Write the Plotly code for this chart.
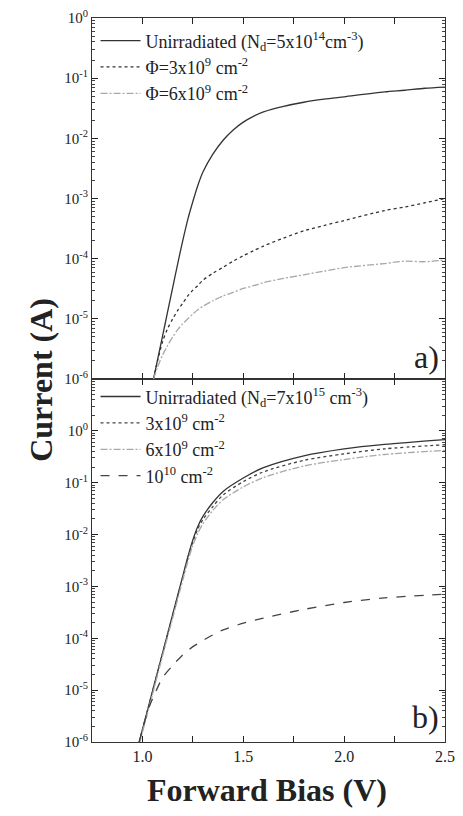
import plotly.graph_objects as go

# ---------------- data ----------------
# Panel a)  (Nd = 5x10^14 cm^-3)
v_a = [1.055, 1.075, 1.10, 1.125, 1.15, 1.175, 1.20, 1.225, 1.25, 1.275, 1.30, 1.35,
       1.40, 1.45, 1.50, 1.55, 1.60, 1.70, 1.80, 1.90, 2.00, 2.20, 2.30, 2.40, 2.50]
i_a_unirr = [1.0e-6, 2.1e-6, 5.2e-6, 1.32e-5, 3.3e-5, 8.3e-5, 2.0e-4, 4.5e-4, 8.9e-4, 1.66e-3, 2.75e-3, 5.5e-3,
             9.3e-3, 1.38e-2, 1.86e-2, 2.32e-2, 2.75e-2, 3.4e-2, 3.98e-2, 4.47e-2, 4.9e-2, 5.9e-2, 6.3e-2, 6.8e-2, 7.1e-2]
i_a_3e9 = [1.0e-6, 2.0e-6, 4.2e-6, 6.9e-6, 1.0e-5, 1.38e-5, 1.82e-5, 2.4e-5, 3.0e-5, 3.6e-5, 4.4e-5, 5.75e-5,
           7.2e-5, 9.1e-5, 1.12e-4, 1.35e-4, 1.62e-4, 2.2e-4, 2.9e-4, 3.55e-4, 4.3e-4, 6.3e-4, 7.2e-4, 8.5e-4, 1.0e-3]
i_a_6e9 = [1.0e-6, 1.58e-6, 2.5e-6, 3.6e-6, 5.0e-6, 6.6e-6, 8.3e-6, 1.0e-5, 1.2e-5, 1.41e-5, 1.62e-5, 2.0e-5,
           2.4e-5, 2.75e-5, 3.2e-5, 3.55e-5, 4.0e-5, 4.7e-5, 5.4e-5, 6.2e-5, 7.1e-5, 8.3e-5, 9.1e-5, 8.9e-5, 9.5e-5]

# Panel b)  (Nd = 7x10^15 cm^-3)
v_b = [0.984, 1.03, 1.06, 1.10, 1.15, 1.20, 1.225, 1.25, 1.275, 1.30, 1.35, 1.40,
       1.50, 1.60, 1.80, 2.00, 2.20, 2.50]
i_b_unirr = [1.0e-6, 4.8e-6, 1.35e-5, 5.2e-5, 2.9e-4, 1.58e-3, 3.7e-3, 7.9e-3, 1.45e-2, 2.24e-2, 4.2e-2, 6.8e-2,
             0.123, 0.195, 0.33, 0.45, 0.55, 0.68]
i_b_3e9 = [1.0e-6, 4.8e-6, 1.35e-5, 5.2e-5, 2.8e-4, 1.51e-3, 3.5e-3, 7.2e-3, 1.29e-2, 1.95e-2, 3.5e-2, 5.8e-2,
           0.105, 0.162, 0.27, 0.36, 0.45, 0.54]
i_b_6e9 = [0.9e-6, 4.2e-6, 1.17e-5, 4.6e-5, 2.45e-4, 1.32e-3, 3.0e-3, 6.2e-3, 1.07e-2, 1.62e-2, 2.95e-2, 4.7e-2,
           8.3e-2, 0.126, 0.21, 0.28, 0.35, 0.42]
i_b_1e10 = [1.0e-6, 4.4e-6, 8.3e-6, 1.74e-5, 3.0e-5, 4.8e-5, 5.75e-5, 6.9e-5, 7.9e-5, 9.1e-5, 1.17e-4, 1.45e-4,
            1.95e-4, 2.45e-4, 3.6e-4, 4.9e-4, 6.0e-4, 7.1e-4]

x_ticks = [1.0, 1.5, 2.0, 2.5]
x_ticktext = ["1.0", "1.5", "2.0", "2.5"]
y_exps = [-6, -5, -4, -3, -2, -1, 0]

# ---------------- styling ----------------
FONT = "Liberation Serif, Times New Roman, serif"
DARK = "#333333"
MID = "#444444"
LIGHT = "#a8a8a8"
DASHDOT = "7px,2px,2px,2px"

fig = go.Figure()

def add(x, y, name, color, dash, xa, ya, legend):
    fig.add_trace(go.Scatter(
        x=x, y=y, name=name, mode="lines", line_shape="spline",
        line=dict(color=color, width=1.3, dash=dash, smoothing=0.8),
        xaxis=xa, yaxis=ya, legend=legend))

add(v_a, i_a_unirr, "Unirradiated (N<sub>d</sub>=5x10<sup>14</sup>cm<sup>-3</sup>)", DARK, "solid", "x2", "y2", "legend")
add(v_a, i_a_3e9, "Φ=3x10<sup>9</sup> cm<sup>-2</sup>", DARK, "dot", "x2", "y2", "legend")
add(v_a, i_a_6e9, "Φ=6x10<sup>9</sup> cm<sup>-2</sup>", LIGHT, DASHDOT, "x2", "y2", "legend")

add(v_b, i_b_unirr, "Unirradiated (N<sub>d</sub>=7x10<sup>15</sup> cm<sup>-3</sup>)", DARK, "solid", "x", "y", "legend2")
add(v_b, i_b_3e9, "3x10<sup>9</sup> cm<sup>-2</sup>", MID, "dot", "x", "y", "legend2")
add(v_b, i_b_6e9, "6x10<sup>9</sup> cm<sup>-2</sup>", LIGHT, DASHDOT, "x", "y", "legend2")
add(v_b, i_b_1e10, "10<sup>10</sup> cm<sup>-2</sup>", MID, "dash", "x", "y", "legend2")

minor_vals = [m * 10 ** e for e in range(-7, 2) for m in range(2, 10)]
y_tickvals = [10 ** e for e in y_exps]
y_ticktext = ["10<sup>%d</sup>" % e for e in y_exps]

split = 365 / 728

common_x = dict(range=[0.75, 2.5], tickmode="array", tickvals=x_ticks,
                ticks="inside", ticklen=6, tickcolor="#222", mirror="allticks",
                showline=True, linecolor="#333", linewidth=1.2, showgrid=False, zeroline=False,
                ticklabeloverflow="allow",
                minor=dict(ticks="inside", ticklen=6, dtick=0.25, tick0=0.75, tickcolor="#222", showgrid=False))
common_y = dict(type="log", tickmode="array", tickvals=y_tickvals, ticktext=y_ticktext,
                ticks="inside", ticklen=6, tickcolor="#222", mirror="allticks",
                showline=True, linecolor="#333", linewidth=1.2, showgrid=False, zeroline=False,
                tickfont=dict(family=FONT, size=15, color="#222"),
                minor=dict(ticks="inside", ticklen=3, tickmode="array", tickvals=minor_vals,
                           tickcolor="#444", showgrid=False))

fig.update_layout(
    width=463, height=816,
    margin=dict(l=92, r=8, t=14, b=74),
    paper_bgcolor="white", plot_bgcolor="white",
    font=dict(family=FONT, color="#222"),
    xaxis=dict(common_x, domain=[0, 1], anchor="y", ticktext=x_ticktext,
               tickfont=dict(family=FONT, size=16, color="#222")),
    yaxis=dict(common_y, domain=[0, split], anchor="x", range=[-6, 1]),
    xaxis2=dict(common_x, domain=[0, 1], anchor="y2", showticklabels=False),
    yaxis2=dict(common_y, domain=[split, 1], anchor="x2", range=[-6, 0]),
    legend=dict(x=0.01, y=0.994, xanchor="left", yanchor="top", bgcolor="rgba(0,0,0,0)",
                font=dict(family=FONT, size=18, color="#222"), itemwidth=40,
                tracegroupgap=0),
    legend2=dict(x=0.01, y=split + 0.001, xanchor="left", yanchor="top", bgcolor="rgba(0,0,0,0)",
                 font=dict(family=FONT, size=18, color="#222"), itemwidth=40,
                 tracegroupgap=0),
    showlegend=True,
    annotations=[
        dict(text="a)", x=0.99, y=split + 0.03, xref="paper", yref="paper",
             xanchor="right", yanchor="middle", showarrow=False,
             font=dict(family=FONT, size=32, color="#222")),
        dict(text="b)", x=0.99, y=0.035, xref="paper", yref="paper",
             xanchor="right", yanchor="middle", showarrow=False,
             font=dict(family=FONT, size=32, color="#222")),
        dict(text="<b>Current (A)</b>", x=-0.145, y=0.5, xref="paper", yref="paper",
             xanchor="center", yanchor="middle", textangle=-90, showarrow=False,
             font=dict(family=FONT, size=32, color="#222")),
        dict(text="<b>Forward Bias (V)</b>", x=0.496, y=-0.066, xref="paper", yref="paper",
             xanchor="center", yanchor="middle", showarrow=False,
             font=dict(family=FONT, size=32, color="#222")),
    ],
)

fig.write_html("out.html")
